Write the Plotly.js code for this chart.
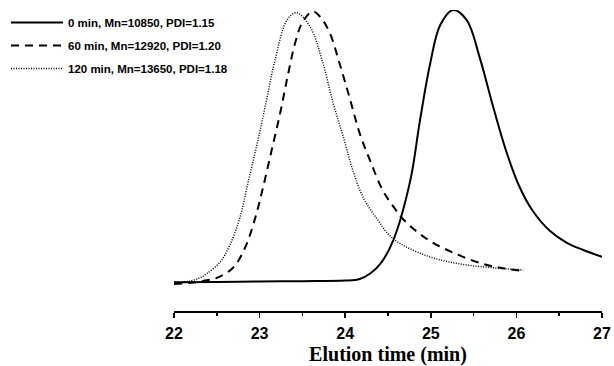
<!DOCTYPE html>
<html>
<head>
<meta charset="utf-8">
<script src="https://cdn.plot.ly/plotly-3.0.1.min.js"></script>
<style>html,body{margin:0;padding:0;background:#fff;}#chart{width:614px;height:366px;}</style>
</head>
<body>
<div id="chart"></div>
<script>
// Series labels
const seriesNames = ["0 min, Mn=10850, PDI=1.15", "60 min, Mn=12920, PDI=1.20", "120 min, Mn=13650, PDI=1.18"];

// 0 min (solid)
const x0 = [22, 22.5, 23, 23.5, 24.0, 24.17, 24.3, 24.41, 24.56, 24.76, 24.87, 24.99, 25.11, 25.26, 25.42, 25.57, 25.73, 25.89, 26.04, 26.19, 26.39, 26.59, 26.78, 27.0];
const y0 = [0.006, 0.007, 0.009, 0.010, 0.012, 0.018, 0.040, 0.073, 0.158, 0.377, 0.590, 0.800, 0.945, 1.0, 0.963, 0.828, 0.645, 0.476, 0.352, 0.267, 0.194, 0.150, 0.124, 0.099];

// 60 min (dashed)
const x60 = [22, 22.2, 22.34, 22.5, 22.69, 22.83, 22.95, 23.04, 23.14, 23.24, 23.33, 23.42, 23.5, 23.62, 23.71, 23.82, 23.94, 24.06, 24.17, 24.29, 24.44, 24.58, 24.68, 24.95, 25.26, 25.61, 25.81, 26.06];
const y60 = [0.0, 0.004, 0.011, 0.022, 0.059, 0.132, 0.242, 0.352, 0.487, 0.623, 0.762, 0.885, 0.955, 0.995, 0.974, 0.916, 0.799, 0.670, 0.549, 0.451, 0.341, 0.275, 0.235, 0.165, 0.114, 0.073, 0.059, 0.048];

// 120 min (dotted)
const x120 = [22, 22.19, 22.30, 22.38, 22.54, 22.65, 22.77, 22.87, 22.98, 23.08, 23.18, 23.32, 23.43, 23.59, 23.73, 23.86, 23.98, 24.09, 24.21, 24.37, 24.56, 24.95, 25.34, 25.73, 26.08];
const y120 = [0.0, 0.011, 0.022, 0.037, 0.080, 0.140, 0.242, 0.377, 0.524, 0.670, 0.817, 0.963, 0.990, 0.939, 0.817, 0.659, 0.535, 0.414, 0.316, 0.238, 0.165, 0.103, 0.073, 0.059, 0.051];

const xTicks = [22, 23, 24, 25, 26, 27];

const traces = [
  {x: x0, y: y0, name: seriesNames[0], legend: "legend", mode: "lines", line: {color: "#000", width: 2, dash: "solid", shape: "spline", smoothing: 1}},
  {x: x60, y: y60, name: seriesNames[1], legend: "legend2", mode: "lines", line: {color: "#000", width: 2, dash: "8px,6px", shape: "spline", smoothing: 1}},
  {x: x120, y: y120, name: seriesNames[2], legend: "legend3", mode: "lines", line: {color: "#000", width: 1.5, dash: "1px,1.5px", shape: "spline", smoothing: 1}}
];

const legFont = {family: "Liberation Sans, Arial, sans-serif", size: 11.5, weight: "bold", color: "#000"};
function leg(topPx) {
  return {xref: "container", yref: "container", x: 6 / 614, y: 1 - topPx / 366, xanchor: "left", yanchor: "top",
          font: legFont, bgcolor: "rgba(0,0,0,0)", borderwidth: 0, itemwidth: 52};
}

const layout = {
  width: 614, height: 366,
  margin: {l: 174, r: 12, t: 10, b: 55, autoexpand: false},
  paper_bgcolor: "#fff", plot_bgcolor: "#fff",
  showlegend: true,
  legend: leg(8), legend2: leg(31), legend3: leg(54),
  xaxis: {
    range: [22, 27], tickvals: xTicks, ticktext: xTicks.map(String),
    showgrid: false, zeroline: false, showline: true, linecolor: "#000", linewidth: 1.5,
    ticks: "outside", ticklen: 5, tickwidth: 1.5, tickcolor: "#000", ticklabelstandoff: 2,
    minor: {dtick: 0.5, ticks: "outside", ticklen: 3, tickwidth: 1.5, tickcolor: "#000", showgrid: false},
    tickfont: {family: "Liberation Sans, Arial, sans-serif", size: 16, weight: "bold", color: "#000"},
    title: {text: "Elution time (min)", standoff: 6, font: {family: "Liberation Serif, Times New Roman, serif", size: 20, weight: "bold", color: "#000"}}
  },
  yaxis: {range: [-0.0989, 1.0], visible: false, showgrid: false, zeroline: false}
};

Plotly.newPlot("chart", traces, layout, {staticPlot: true, displayModeBar: false});
</script>
</body>
</html>
